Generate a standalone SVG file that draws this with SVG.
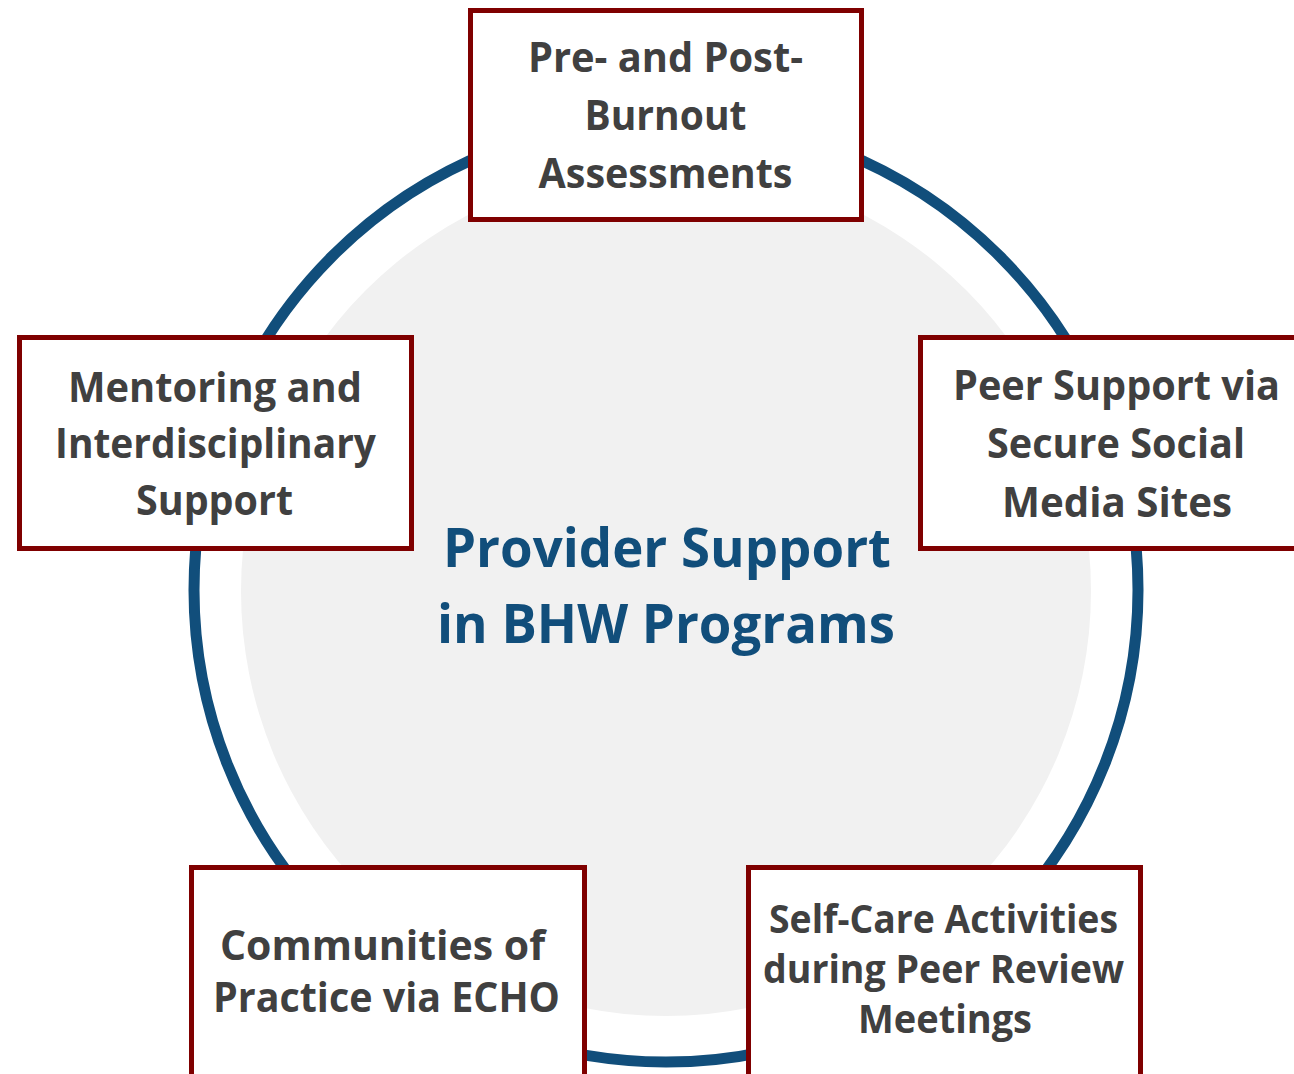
<svg xmlns="http://www.w3.org/2000/svg" width="1294" height="1074" viewBox="0 0 1294 1074">
<style>
.box{fill:#ffffff;stroke:#7f0000;stroke-width:5}
.lbl{font-family:"Open Sans","Noto Sans","Liberation Sans",sans-serif;font-weight:bold;fill:#404040;text-anchor:middle}
.title{font-family:"Open Sans","Noto Sans","Liberation Sans",sans-serif;font-weight:bold;fill:#114e7b;text-anchor:middle;font-size:53px}
</style>
<rect x="0" y="0" width="1294" height="1074" fill="#ffffff"/>
<circle id="hub-bg" cx="666" cy="591" r="425" fill="#f1f1f1"/>
<g id="connectors">
<circle cx="666" cy="590" r="472" fill="none" stroke="#114e7b" stroke-width="11"/>
</g>
<g id="center">
<text class="title" x="667" y="567" textLength="448" lengthAdjust="spacingAndGlyphs">Provider Support</text>
<text class="title" x="666" y="643" textLength="458" lengthAdjust="spacingAndGlyphs">in BHW Programs</text>
</g>
<g id="node-top">
<rect class="box" x="470.5" y="10.5" width="391" height="209"/>
<text class="lbl" font-size="42" x="665.5" y="72" textLength="275" lengthAdjust="spacingAndGlyphs">Pre- and Post-</text>
<text class="lbl" font-size="42" x="665.5" y="130" textLength="162" lengthAdjust="spacingAndGlyphs">Burnout</text>
<text class="lbl" font-size="42" x="665.5" y="188" textLength="254" lengthAdjust="spacingAndGlyphs">Assessments</text>
</g>
<g id="node-left">
<rect class="box" x="19.5" y="337.5" width="392" height="211"/>
<text class="lbl" font-size="42" x="215" y="402" textLength="294" lengthAdjust="spacingAndGlyphs">Mentoring and</text>
<text class="lbl" font-size="42" x="215.5" y="458" textLength="321" lengthAdjust="spacingAndGlyphs">Interdisciplinary</text>
<text class="lbl" font-size="42" x="214.5" y="515" textLength="157" lengthAdjust="spacingAndGlyphs">Support</text>
</g>
<g id="node-right">
<rect class="box" x="920.5" y="337.5" width="395" height="211"/>
<text class="lbl" font-size="42" x="1116.5" y="400" textLength="327" lengthAdjust="spacingAndGlyphs">Peer Support via</text>
<text class="lbl" font-size="42" x="1116" y="458" textLength="258" lengthAdjust="spacingAndGlyphs">Secure Social</text>
<text class="lbl" font-size="42" x="1117" y="517" textLength="230" lengthAdjust="spacingAndGlyphs">Media Sites</text>
</g>
<g id="node-bottom-left">
<rect class="box" x="191.5" y="867.5" width="393" height="230"/>
<text class="lbl" font-size="42" x="382.5" y="960" textLength="325" lengthAdjust="spacingAndGlyphs">Communities of</text>
<text class="lbl" font-size="42" x="386.5" y="1012" textLength="347" lengthAdjust="spacingAndGlyphs">Practice via ECHO</text>
</g>
<g id="node-bottom-right">
<rect class="box" x="748.5" y="867.5" width="392" height="230"/>
<text class="lbl" font-size="39" x="943.5" y="933" textLength="349" lengthAdjust="spacingAndGlyphs">Self-Care Activities</text>
<text class="lbl" font-size="39" x="943.5" y="983" textLength="361" lengthAdjust="spacingAndGlyphs">during Peer Review</text>
<text class="lbl" font-size="39" x="945" y="1033" textLength="174" lengthAdjust="spacingAndGlyphs">Meetings</text>
</g>
</svg>
